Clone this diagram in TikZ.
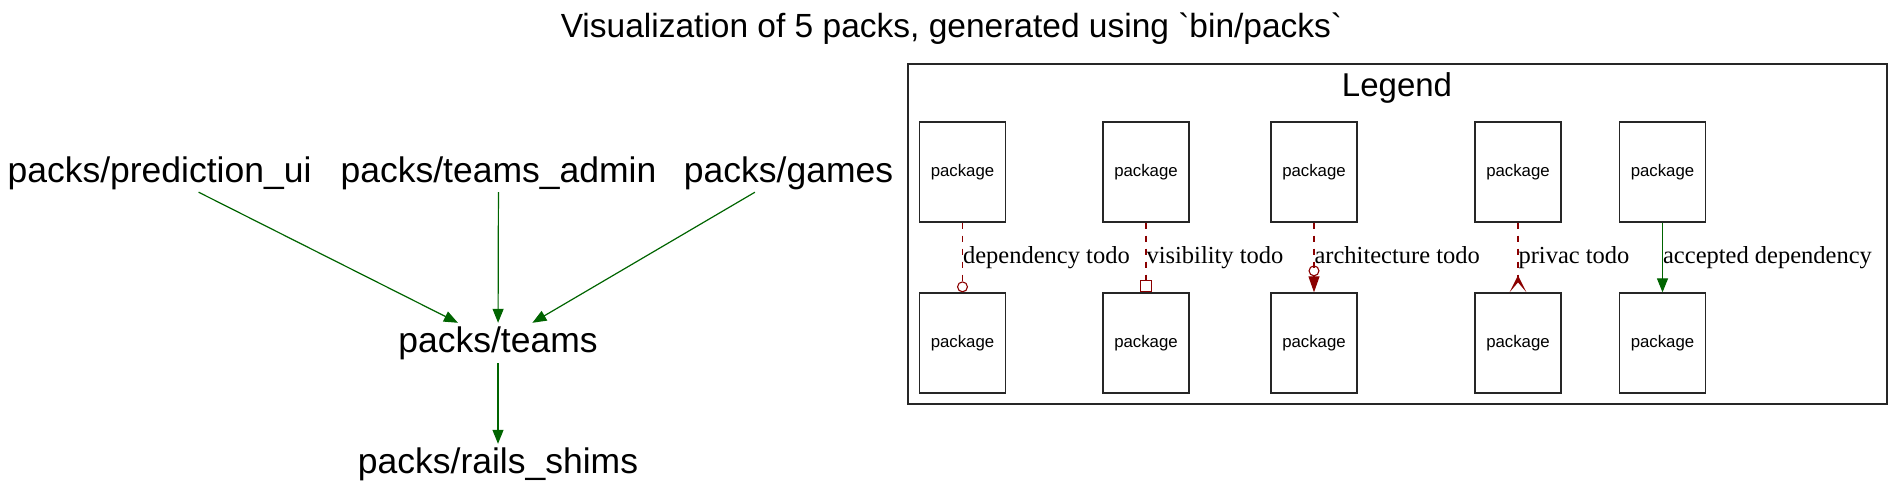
\documentclass[tikz,border=0pt]{standalone}
\usepackage{fontspec}
\setmainfont{Liberation Serif}
\newfontfamily\sansf[Ligatures=TeXOff]{Liberation Sans}
\usetikzlibrary{arrows.meta}
\definecolor{depgreen}{HTML}{006400}
\definecolor{tododark}{HTML}{8B0000}
\tikzset{
  pack/.style={font=\sansf\fontsize{35.5}{40}\selectfont, inner sep=0pt, text height=29pt, text depth=11pt},
  packtop/.style={pack, text depth=10pt},
  dep/.style={draw=depgreen, line width=1.2pt, -{Triangle[length=14pt,width=11pt]}},
  pkg/.style={draw=black!85, line width=1.3pt, minimum width=86pt, minimum height=100pt, inner sep=0pt, font=\sansf\fontsize{16.8}{18}\selectfont},
  todo/.style={draw=tododark, line width=1.1pt, dash pattern=on 6pt off 7pt},
  lbl/.style={anchor=west, inner sep=0pt, text height=17pt, text depth=5.5pt, font=\fontsize{24.5}{26}\selectfont, text=black},
}
\begin{document}
\begin{tikzpicture}[x=1pt,y=-1pt]
\useasboundingbox (0,0) rectangle (1904,490);
% title
\node[font=\sansf\fontsize{33.5}{38}\selectfont, anchor=base, inner sep=0pt] (title) at (951.5,37) {Visualization of 5 packs, generated using `bin/packs`};
% packs
\node[packtop, anchor=base] (pred) at (159.5,182) {packs/prediction\_ui};
\node[packtop, anchor=base] (admin) at (498.5,182) {packs/teams\_admin};
\node[packtop, anchor=base] (games) at (788.5,182) {packs/games};
\node[pack, anchor=base] (teams) at (498,352) {packs/teams};
\node[pack, anchor=base] (rails) at (498,473) {packs/rails\_shims};
\draw[dep] (pred) -- (teams);
\draw[dep] (admin) -- (teams);
\draw[dep] (games) -- (teams);
\draw[dep] (teams) -- (rails);
% legend
\node[draw=black!85, line width=1.3pt, minimum width=979pt, minimum height=340pt, inner sep=0pt] (legendbox) at (1397.5,234) {};
\node[font=\sansf\fontsize{33}{36}\selectfont, anchor=base, inner sep=0pt] (legendtitle) at (1397,96) {Legend};
\foreach \i/\x in {1/962.5,2/1146,3/1314,4/1518,5/1662.5}{
  \node[pkg] (a\i) at (\x,172) {package};
  \node[pkg] (b\i) at (\x,343) {package};
}
\draw[todo, -{Circle[open,length=11pt,width=11pt]}] (a1) -- node[lbl] (l1) {dependency todo} (b1);
\draw[todo, -{Square[open,length=12pt,width=12pt]}] (a2) -- node[lbl] (l2) {visibility todo} (b2);
\draw[todo, -{Circle[open,length=11pt,width=11pt,sep=0pt] Triangle[length=16pt,width=11pt]}] (a3) -- node[lbl] (l3) {architecture todo} (b3);
\draw[todo, -{Stealth[reversed,length=17pt,width=17pt,inset=10pt]}] (a4) -- node[lbl] (l4) {privac todo} (b4);
\draw[dep] (a5) -- node[lbl] (l5) {accepted dependency} (b5);
\end{tikzpicture}
\end{document}
